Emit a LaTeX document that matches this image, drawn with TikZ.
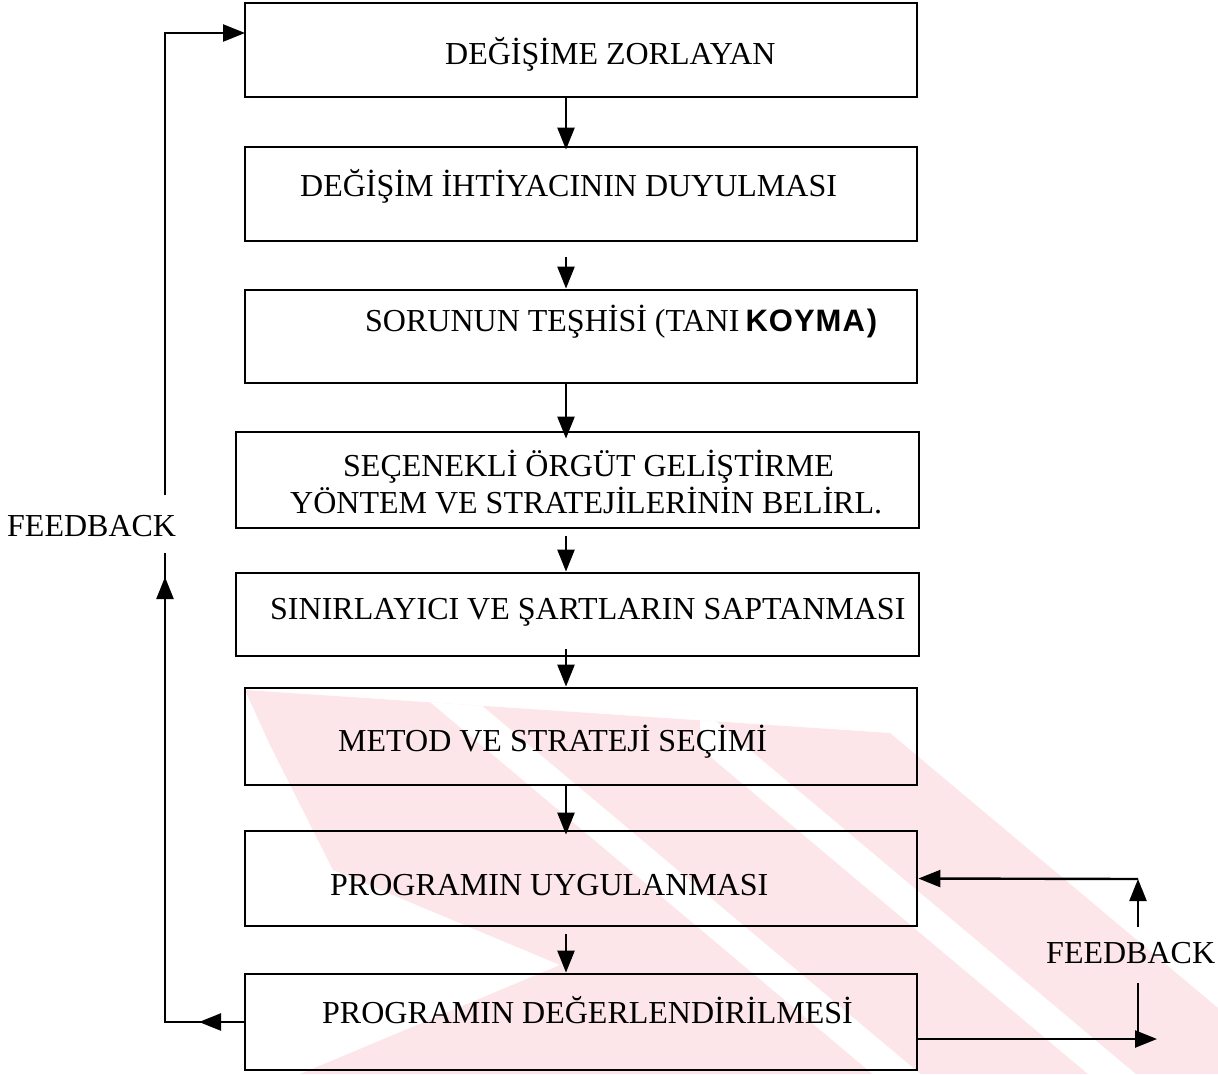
\documentclass[tikz,border=0pt]{standalone}
\usepackage{fontspec}
\setmainfont{Liberation Serif}
\newfontfamily\handfont{Liberation Sans}
\usetikzlibrary{arrows.meta}
\definecolor{wmpink}{RGB}{252,230,233}

\begin{document}
\begin{tikzpicture}[x=1pt,y=-1pt,
  box/.style={draw, line width=2.8pt, inner sep=0pt},
  lbl/.style={anchor=base west, inner sep=0pt, font=\fontsize{32}{36}\selectfont},
  arr/.style={line width=2.4pt, -{Triangle[length=22pt,width=17pt]}},
  ln/.style={line width=2.4pt}]
\useasboundingbox (0,0) rectangle (1218,1074);

% faint background emblem: pale band crossed by white diagonal stripes
\begin{scope}
  \clip (245,690) -- (890,733) -- (1218,1008) -- (1218,1074) -- (300,1074)
        -- (560,965) -- (333,870) -- (270,745) -- cycle;
  \fill[wmpink] (0,0) rectangle (1218,1074);
  \fill[white] (700,708) -- (1300,1212) -- (1300,1252) -- (700,748) -- cycle;
  \fill[white] (380,620) -- (1300,1393) -- (1300,1433) -- (380,660) -- cycle;
\end{scope}

% process boxes
\node[box, minimum width=672pt, minimum height=94pt] (b1) at (581,50) {};
\node[box, minimum width=672pt, minimum height=94pt] (b2) at (581,194) {};
\node[box, minimum width=672pt, minimum height=93pt] (b3) at (581,336.5) {};
\node[box, minimum width=683pt, minimum height=96pt] (b4) at (577.5,480) {};
\node[box, minimum width=683pt, minimum height=83pt] (b5) at (577.5,614.5) {};
\node[box, minimum width=672pt, minimum height=97pt] (b6) at (581,736.5) {};
\node[box, minimum width=672pt, minimum height=95pt] (b7) at (581,878.5) {};
\node[box, minimum width=672pt, minimum height=96pt] (b8) at (581,1022) {};

% box texts
\node[lbl] (t1) at (445,64) {DEĞİŞİME ZORLAYAN};
\node[lbl] (t2) at (300,196) {DEĞİŞİM İHTİYACININ DUYULMASI};
\node[lbl] (t3) at (365,331) {SORUNUN TEŞHİSİ (TANI\kern6pt{\handfont\bfseries\fontsize{31}{34}\selectfont K\kern1pt O\kern1pt Y\kern1pt M\kern1pt A\kern2pt)}};
\node[lbl] (t4a) at (343,476) {SEÇENEKLİ ÖRGÜT GELİŞTİRME};
\node[lbl] (t4b) at (290,513) {YÖNTEM VE STRATEJİLERİNİN BELİRL.};
\node[lbl] (t5) at (270,619) {SINIRLAYICI VE ŞARTLARIN SAPTANMASI};
\node[lbl] (t6) at (338,751) {METOD VE STRATEJİ SEÇİMİ};
\node[lbl] (t7) at (330,895) {PROGRAMIN UYGULANMASI};
\node[lbl] (t8) at (322,1023) {PROGRAMIN DEĞERLENDİRİLMESİ};
\node[lbl] (fbl) at (7,536) {FEEDBACK};
\node[lbl] (fbr) at (1046,963) {FEEDBACK};

% main flow
\coordinate (cx) at (566,0);
\draw[arr] (b1.south -| cx) -- ([yshift=-4pt]b2.north -| cx);
\draw[arr] ([yshift=-15pt]b2.south -| cx) -- (b3.north -| cx);
\draw[arr] (b3.south -| cx) -- ([yshift=-8pt]b4.north -| cx);
\draw[arr] ([yshift=-7pt]b4.south -| cx) -- (b5.north -| cx);
\draw[arr] ([yshift=8pt]b5.south -| cx) -- (b6.north -| cx);
\draw[arr] (b6.south -| cx) -- ([yshift=-5pt]b7.north -| cx);
\draw[arr] ([yshift=-7pt]b7.south -| cx) -- (b8.north -| cx);

% outer feedback loop on the left
\coordinate (lb) at (165,1022);
\coordinate (lh) at (199,1022);
\coordinate (lu) at (165,577);
\coordinate (lg) at (165,553);
\coordinate (lt) at (165,495);
\coordinate (lc) at (165,33);
\coordinate (le) at (245,33);
\draw[ln] (b8.west) -- (lb) -- (lu);
\draw[arr] (b8.west) -- (lh);
\draw[arr] (lb) -- (lu);
\draw[ln] (lu) -- (lg);
\draw[arr] (lt) -- (lc) -- (le);

% inner feedback loop on the right
\coordinate (rb) at (1138,927);
\coordinate (rc) at (1138,879);
\coordinate (rs) at (1138,983);
\coordinate (rm) at (1138,1039);
\coordinate (re) at (1157,1039);
\draw[arr] (rb) -- (rc);
\draw[arr] (rc) -- (b7.east);
\draw[ln] (rs) -- (rm);
\draw[arr] (b8.east |- rm) -- (re);
\end{tikzpicture}
\end{document}
